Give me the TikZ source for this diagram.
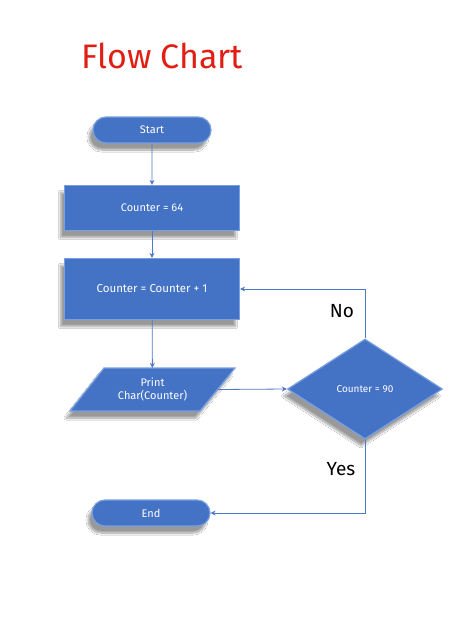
\documentclass[tikz,border=0pt]{standalone}
\usepackage{fontspec}
\setmainfont{Fira Sans}
\usetikzlibrary{shapes.geometric,shapes.misc,shadows.blur,arrows.meta}
\definecolor{boxblue}{RGB}{68,114,196}
\definecolor{edgeblue}{RGB}{120,160,225}
\definecolor{linkblue}{RGB}{80,120,200}
\definecolor{titlered}{RGB}{225,30,20}
\tikzset{
  box face/.style={fill=boxblue, draw=edgeblue, line width=1.2pt,
    blur shadow={shadow xshift=-4pt, shadow yshift=-7pt, shadow opacity=40, shadow blur steps=12}},
  box text/.style={text=white, font=\fontsize{11}{13}\selectfont, align=center, inner sep=2pt},
  shade box/.style={box face, box text},
  terminal/.style={shade box, rounded rectangle, minimum width=122pt, minimum height=26pt},
  process/.style={shade box, rectangle, minimum width=175pt},
  io/.style={box text, rectangle, minimum width=131pt, minimum height=43pt},
  decision/.style={shade box, diamond, minimum width=155pt, minimum height=100pt,
    font=\fontsize{10}{12}\selectfont},
  link/.style={draw=linkblue, line width=0.8pt, -{Stealth[length=5pt,width=5pt]}},
  branch/.style={font=\fontsize{19}{21}\selectfont, text=black}
}
\begin{document}
\begin{tikzpicture}[x=1pt,y=-1pt]
  \useasboundingbox (0,0) rectangle (468,618);
  \fill[white] (0,0) rectangle (468,618);

  \node[text=titlered, font=\fontsize{34}{38}\selectfont] (title) at (162,56) {Flow Chart};

  \node[terminal] (start) at (152,130) {Start};
  \node[process, minimum height=45pt] (init) at (152,208) {Counter = 64};
  \node[process, minimum height=61pt, font=\fontsize{11.5}{13}\selectfont] (inc) at (152,289) {Counter = Counter + 1};

  % output step: slanted parallelogram drawn first, its text node on top
  \coordinate (pc) at (152.5,389.5);
  \path[box face] ([shift={(-48.5,-21.5)}]pc) -- ([shift={(82.5,-21.5)}]pc)
    -- ([shift={(47.5,21.5)}]pc) -- ([shift={(-82.5,21.5)}]pc) -- cycle;
  \node[io] (print) at (pc) {Print\\Char(Counter)};

  \node[decision] (test) at (365,389) {Counter = 90};
  \node[terminal] (stop) at (151,513) {End};

  \coordinate (noturn) at (365,289);
  \coordinate (yesturn) at (365,513);

  \draw[link] (start) -- (init);
  \draw[link] (init) -- (inc);
  \draw[link] (inc) -- (print);
  \draw[link] (print.east) -- (test.west);
  \draw[link] (test.north) -- (noturn) -- (inc.east);
  \draw[link] (test.south) -- (yesturn) -- (stop.east);

  \node[branch] (nolabel) at (342,311) {No};
  \node[branch] (yeslabel) at (341,469) {Yes};
\end{tikzpicture}
\end{document}
